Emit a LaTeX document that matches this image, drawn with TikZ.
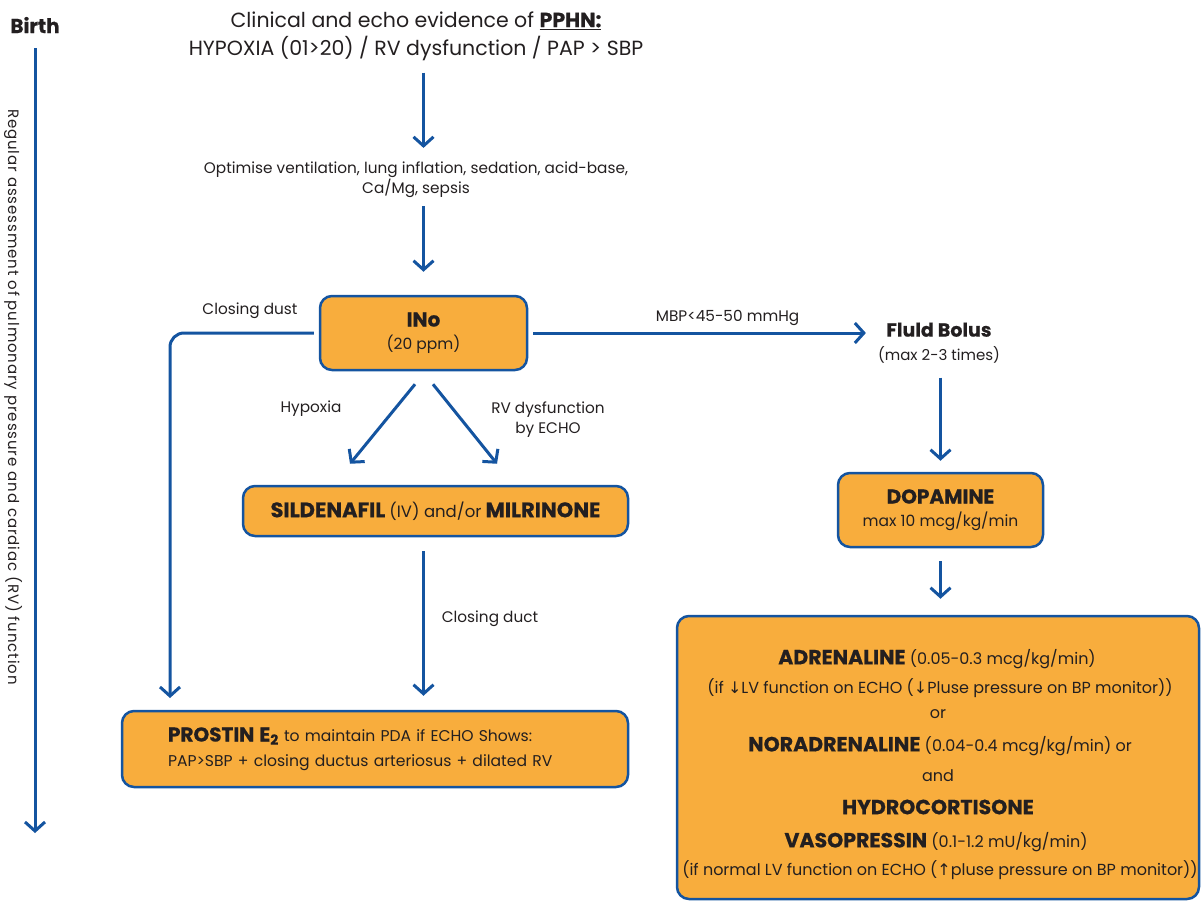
\documentclass[tikz,border=0pt]{standalone}
\usepackage{fontspec}
\setmainfont{Poppins}[BoldFeatures={FakeBold=0.6}]
\newfontfamily\arrfont{DejaVu Sans}
\usetikzlibrary{arrows.meta}
\definecolor{navy}{RGB}{20,84,160}
\definecolor{boxfill}{RGB}{248,173,61}
\definecolor{ink}{RGB}{35,31,32}
\begin{document}
\begin{tikzpicture}[x=1pt,y=-1pt,
  arr/.style={draw=navy, line width=3pt, -{Straight Barb[length=9pt,width=20pt]}},
  box/.style={draw=navy, line width=2.5pt, fill=boxfill, rounded corners=12pt, align=center, inner sep=0pt, text=ink, font=\fontsize{15.5}{23}\selectfont},
  lab/.style={font=\fontsize{15.3}{20}\selectfont, text=ink, align=center, inner sep=0pt},
  big/.style={font=\fontsize{20}{24}\selectfont\bfseries},
  sm/.style={font=\fontsize{16}{20}\selectfont, text=ink, inner sep=0pt},
]
\useasboundingbox (0,0) rectangle (1201,901);

% timeline
\node[big, text=ink, inner sep=0pt] (birth) at (35,25) {Birth};
\coordinate (tend) at (35,833);
\draw[arr] (birth.south) -- (tend) [shorten <=15pt];
\node[lab, rotate=-90, font=\fontsize{15}{18}\selectfont\addfontfeatures{LetterSpace=6}] (regular) at (13,397) {Regular assessment of pulmonary pressure and cardiac (RV) function};

% title
\node[align=center, text=ink, inner sep=0pt, font=\fontsize{20.5}{28}\selectfont] (title) at (416,36) {Clinical and echo evidence of \textbf{\underline{PPHN:}}\\HYPOXIA (01>20) / RV dysfunction / PAP > SBP};

\node[lab] (opt) at (416,180) {Optimise ventilation, lung inflation, sedation, acid-base,\\Ca/Mg, sepsis};

\node[box, minimum width=207pt, minimum height=74pt] (ino) at (423.5,333) {{\fontsize{20}{23}\selectfont\bfseries INo}\\(20 ppm)};

\draw[arr, shorten <=12pt, shorten >=14pt] (title.south -| ino.center) -- (opt.north -| ino.center);
\draw[arr, shorten <=8pt, shorten >=23pt] (opt.south -| ino.center) -- (ino.north);

% fluid bolus
\node[align=center, text=ink, inner sep=0pt, font=\fontsize{15}{24}\selectfont] (fluid) at (939,343) {{\fontsize{19}{22}\selectfont\bfseries Fluld Bolus}\\(max 2-3 times)};
\draw[arr, shorten <=5pt, shorten >=12pt] (ino.east) -- (ino.east -| fluid.west) node[pos=0.57, above=6pt, lab] (mbp) {MBP<45-50 mmHg};

\node[box, minimum width=205pt, minimum height=74pt] (dop) at (940.5,510) {{\fontsize{20}{24}\selectfont\bfseries DOPAMINE}\\max 10 mcg/kg/min};
\draw[arr, shorten <=14pt, shorten >=11pt] (fluid.south -| dop.center) -- (dop.north);

\node[box, minimum width=522pt, minimum height=283pt] (bigbox) at (938,757.5) {};
\draw[arr, shorten <=13pt, shorten >=16pt] (dop.south) -- (bigbox.north -| dop.center);

\node[sm] (a1) at (937,659) {{\fontsize{20.5}{24}\selectfont\bfseries ADRENALINE} (0.05-0.3 mcg/kg/min)};
\node[sm] (a2) at (940,688) {(if {\arrfont ↓}LV function on ECHO ({\arrfont ↓}Pluse pressure on BP monitor))};
\node[sm] (a3) at (938,714) {or};
\node[sm] (a4) at (940,746) {{\fontsize{20.5}{24}\selectfont\bfseries NORADRENALINE} (0.04-0.4 mcg/kg/min) or};
\node[sm] (a5) at (938,776) {and};
\node[sm] (a6) at (938,807) {\fontsize{20.5}{24}\selectfont\bfseries HYDROCORTISONE};
\node[sm] (a7) at (936,842) {{\fontsize{20.5}{24}\selectfont\bfseries VASOPRESSIN} (0.1-1.2 mU/kg/min)};
\node[sm] (a8) at (940,870) {(if normal LV function on ECHO ({\arrfont ↑}pluse pressure on BP monitor))};

% sildenafil
\node[box, minimum width=385pt, minimum height=50pt] (sil) at (435.5,511) {{\fontsize{21}{24}\selectfont\bfseries SILDENAFIL} {\fontsize{16.5}{20}\selectfont (IV) and/or} {\fontsize{21}{24}\selectfont\bfseries MILRINONE}};
\draw[arr] ([shift={(-8.5,13)}]ino.south) -- ([shift={(-85.5,-21)}]sil.north);
\draw[arr] ([shift={(9.5,13)}]ino.south) -- ([shift={(61.5,-21)}]sil.north);
\node[lab] (hyp) at (311,409) {Hypoxia};
\node[lab] (rvd) at (548,420) {RV dysfunction\\by ECHO};

% prostin
\node[box, minimum width=506pt, minimum height=76pt, align=left, text width=430pt, inner xsep=38pt, font=\fontsize{15.6}{25}\selectfont] (prost) at (375,749) {\hspace*{8pt}{\fontsize{20}{24}\selectfont\bfseries PROSTIN E\textsubscript{2}} to maintain PDA if ECHO Shows:\\\hspace*{8pt}PAP>SBP + closing ductus arteriosus + dilated RV};
\draw[arr, shorten <=14pt, shorten >=14pt] (sil.south -| ino.center) -- (prost.north -| ino.center);
\node[lab] (cduct) at (490,619) {Closing duct};

% closing dust branch
\coordinate (lc) at (170,698);
\draw[arr, rounded corners=14pt, shorten <=5pt] (ino.west) -| (lc);
\node[lab] (cdust) at (250,311) {Closing dust};

\end{tikzpicture}
\end{document}
